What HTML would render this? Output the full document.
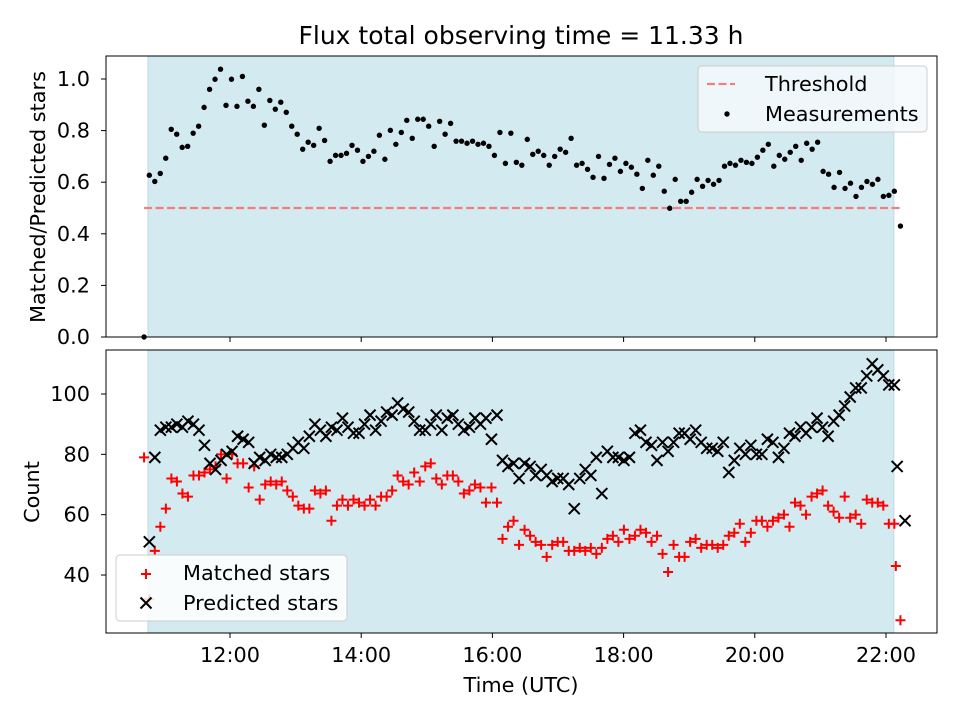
<!DOCTYPE html>
<html><head><meta charset="utf-8"><style>
body{margin:0;background:#fff;}
svg{display:block;font-family:"DejaVu Sans","Liberation Sans",sans-serif;}
</style></head><body>
<svg id="chart" width="960" height="720" viewBox="0 0 960 720">
<rect width="960" height="720" fill="#fff"/>
<text x="521" y="44" font-size="25" text-anchor="middle">Flux total observing time = 11.33 h</text>
<g id="top"></g>
<g id="bot"></g>
<text x="521" y="692" font-size="20.8" text-anchor="middle">Time (UTC)</text>
<text transform="translate(45,197) rotate(-90)" font-size="20.8" text-anchor="middle">Matched/Predicted stars</text>
<text transform="translate(39,492) rotate(-90)" font-size="20.8" text-anchor="middle">Count</text>
</svg>
<script>
const ratioVals=[0.627,0.603,0.634,0.693,0.805,0.786,0.735,0.739,0.790,0.817,0.890,0.960,0.999,1.038,0.898,0.999,0.894,1.010,0.914,0.894,0.960,0.821,0.917,0.883,0.910,0.871,0.817,0.786,0.728,0.755,0.743,0.809,0.762,0.681,0.704,0.704,0.712,0.743,0.724,0.681,0.700,0.720,0.782,0.689,0.801,0.747,0.793,0.840,
0.770,0.844,0.844,0.817,0.739,0.836,0.786,0.828,0.759,0.759,0.751,0.759,0.747,0.751,0.739,0.704,0.793,0.673,0.790,0.677,0.666,0.766,0.708,0.720,0.704,0.666,0.700,0.728,0.716,0.770,0.666,0.673,0.650,0.619,0.700,0.615,0.669,0.693,0.642,0.673,0.658,0.631,0.576,0.685,0.627,0.662,0.565,0.499,0.611,
0.526,0.526,0.561,0.611,0.584,0.607,0.592,0.607,0.662,0.673,0.666,0.685,0.677,0.673,0.697,0.724,0.747,0.662,0.704,0.689,0.716,0.739,0.685,0.751,0.728,0.755,0.642,0.631,0.580,0.638,0.576,0.596,0.545,0.580,0.603,0.592,0.611,0.545,0.549,0.565];
const ratioExtraTimes=[10.69,22.22];
const ratioExtraVals=[0.0,0.43];
const predictedVals=[51,79,88,89,89,90,89,91,90,88,83,77,75,78,80,81,86,85,84,77,79,78,80,79,79,80,82,84,82,86,90,88,86,89,88,92,89,87,87,90,93,88,91,94,93,97,95,94,91,88,88,90,93,88,92,93,90,88,89,92,90,92,85,93,78,76,77,72,77,76,73,75,73,71,72,72,70,62,72,75,73,79,67,81,79,79,78,79,87,88,84,83,78,84,81,84,87,87,85,88,84,82,82,81,84,74,78,82,80,83,80,80,85,84,79,82,87,86,89,87,89,92,89,86,91,93,96,99,102,102,106,110,108,106,103,103];
const predictedExtraTimes=[22.17,22.29];
const predictedExtraVals=[76,58];
const matchedVals=[32,48,56,62,72,71,67,66,73,73,74,75,76,80,72,80,77,77,69,76,65,70,71,70,71,68,66,63,62,62,68,67,68,58,63,65,63,65,64,63,65,63,66,66,68,73,71,70,74,71,76,77,72,70,73,73,71,67,68,70,69,64,69,64,52,56,58,50,55,53,51,50,46,50,51,51,48,48,49,48,49,47,49,52,53,51,55,52,53,55,54,51,53,47,41,50,46,46,51,52,49,50,50,49,50,53,54,57,51,54,58,58,56,58,59,60,56,64,63,60,66,67,68,63,61,59,66,59,60,57,65,64,64,63,57,57];
const matchedExtraTimes=[10.69,22.15,22.22];
const matchedExtraVals=[79,43,25];
const xTickLabels=["12:00","14:00","16:00","18:00","20:00","22:00"];
const xTickHours=[12,14,16,18,20,22];
const topTicks=[0.0,0.2,0.4,0.6,0.8,1.0];
const botTicks=[40,60,80,100];
const threshold=0.5;
const tStart=10.77, tEnd=22.127, shadeStart=10.75, shadeEnd=22.12;

const NS="http://www.w3.org/2000/svg";
const L=106,R=937;
const xs=h=>230+(h-12)*65.6;
const yTop=v=>337-v*258;
const yBot=v=>394-(v-100)*3.017;
function mk(tag,attrs,parent){const e=document.createElementNS(NS,tag);for(const k in attrs)e.setAttribute(k,attrs[k]);parent.appendChild(e);return e;}
function times(n){const a=[];for(let i=0;i<n;i++)a.push(tStart+(tEnd-tStart)*i/(n-1));return a;}

function axesFrame(g,top,bottom,name){
  const bg=mk('rect',{x:xs(shadeStart),y:top,width:xs(shadeEnd)-xs(shadeStart),height:bottom-top,fill:'#d4eaf1',stroke:'#bcdbe6','stroke-width':1},g);
  
  
}
function frame(g,top,bottom,name){
  const f=mk('rect',{x:L,y:top,width:R-L,height:bottom-top,fill:'none',stroke:'#000','stroke-width':1},g);
  
  
  xTickHours.forEach(h=>{const t=mk('line',{x1:xs(h),x2:xs(h),y1:bottom,y2:bottom+5,stroke:'#000'},g);
    
    });
}
// TOP
const gt=document.getElementById('top');
axesFrame(gt,56,337,'top');
const th=mk('line',{x1:xs(10.69),x2:xs(22.22),y1:yTop(threshold),y2:yTop(threshold),stroke:'#f08080','stroke-width':2.2,'stroke-dasharray':'8 3.5'},gt);


const tt=times(ratioVals.length);
ratioVals.forEach((v,i)=>{const c=mk('circle',{cx:xs(tt[i]),cy:yTop(v),r:2.7,fill:'#000'},gt);
  
  });
ratioExtraVals.forEach((v,i)=>{const c=mk('circle',{cx:xs(ratioExtraTimes[i]),cy:yTop(v),r:2.7,fill:'#000'},gt);
  
  });
frame(gt,56,337,'top');
topTicks.forEach(v=>{mk('line',{x1:L-5,x2:L,y1:yTop(v),y2:yTop(v),stroke:'#000'},gt);
  const t=mk('text',{x:90,y:yTop(v)+7,'font-size':20.8,'text-anchor':'end'},gt);t.textContent=v.toFixed(1);
  
  });
// top legend
const lg=mk('g',{},gt);


mk('rect',{x:698,y:66,width:229,height:66,rx:4,fill:'#f5f9fb','fill-opacity':0.85,stroke:'#ccc'},lg);
mk('line',{x1:707,x2:735,y1:84,y2:84,stroke:'#f08080','stroke-width':2.2,'stroke-dasharray':'8 3.5'},lg);
let t1=mk('text',{x:765,y:91,'font-size':20.8},lg);t1.textContent='Threshold';
mk('circle',{cx:727,cy:114,r:2.7,fill:'#000'},lg);
let t2=mk('text',{x:765,y:121,'font-size':20.8},lg);t2.textContent='Measurements';

// BOTTOM
const gb=document.getElementById('bot');
axesFrame(gb,350,633,'bottom');
function plus(x,y,g){const p=mk('path',{d:`M${x-5},${y}H${x+5}M${x},${y-5}V${y+5}`,stroke:'#f00','stroke-width':2,fill:'none'},g);
  
  }
function cross(x,y,g){const p=mk('path',{d:`M${x-5.5},${y-5.5}L${x+5.5},${y+5.5}M${x-5.5},${y+5.5}L${x+5.5},${y-5.5}`,stroke:'#000','stroke-width':2,fill:'none'},g);
  
  }
const tm=times(matchedVals.length);
matchedVals.forEach((v,i)=>plus(xs(tm[i]),yBot(v),gb));
matchedExtraVals.forEach((v,i)=>plus(xs(matchedExtraTimes[i]),yBot(v),gb));
const tp=times(predictedVals.length);
predictedVals.forEach((v,i)=>cross(xs(tp[i]),yBot(v),gb));
predictedExtraVals.forEach((v,i)=>cross(xs(predictedExtraTimes[i]),yBot(v),gb));
frame(gb,350,633,'bottom');
botTicks.forEach(v=>{mk('line',{x1:L-5,x2:L,y1:yBot(v),y2:yBot(v),stroke:'#000'},gb);
  const t=mk('text',{x:90,y:yBot(v)+7,'font-size':20.8,'text-anchor':'end'},gb);t.textContent=v;
  
  });
xTickHours.forEach((h,i)=>{const t=mk('text',{x:xs(h),y:662,'font-size':20.8,'text-anchor':'middle'},gb);t.textContent=xTickLabels[i];
  
  });
const lb=mk('g',{},gb);


mk('rect',{x:116,y:555,width:231,height:66,rx:4,fill:'#fff','fill-opacity':0.85,stroke:'#ccc'},lb);
plus(146,574,lb);
let t3=mk('text',{x:183,y:580,'font-size':20.8},lb);t3.textContent='Matched stars';
cross(146,603,lb);
let t4=mk('text',{x:183,y:610,'font-size':20.8},lb);t4.textContent='Predicted stars';
</script>
</body></html>
